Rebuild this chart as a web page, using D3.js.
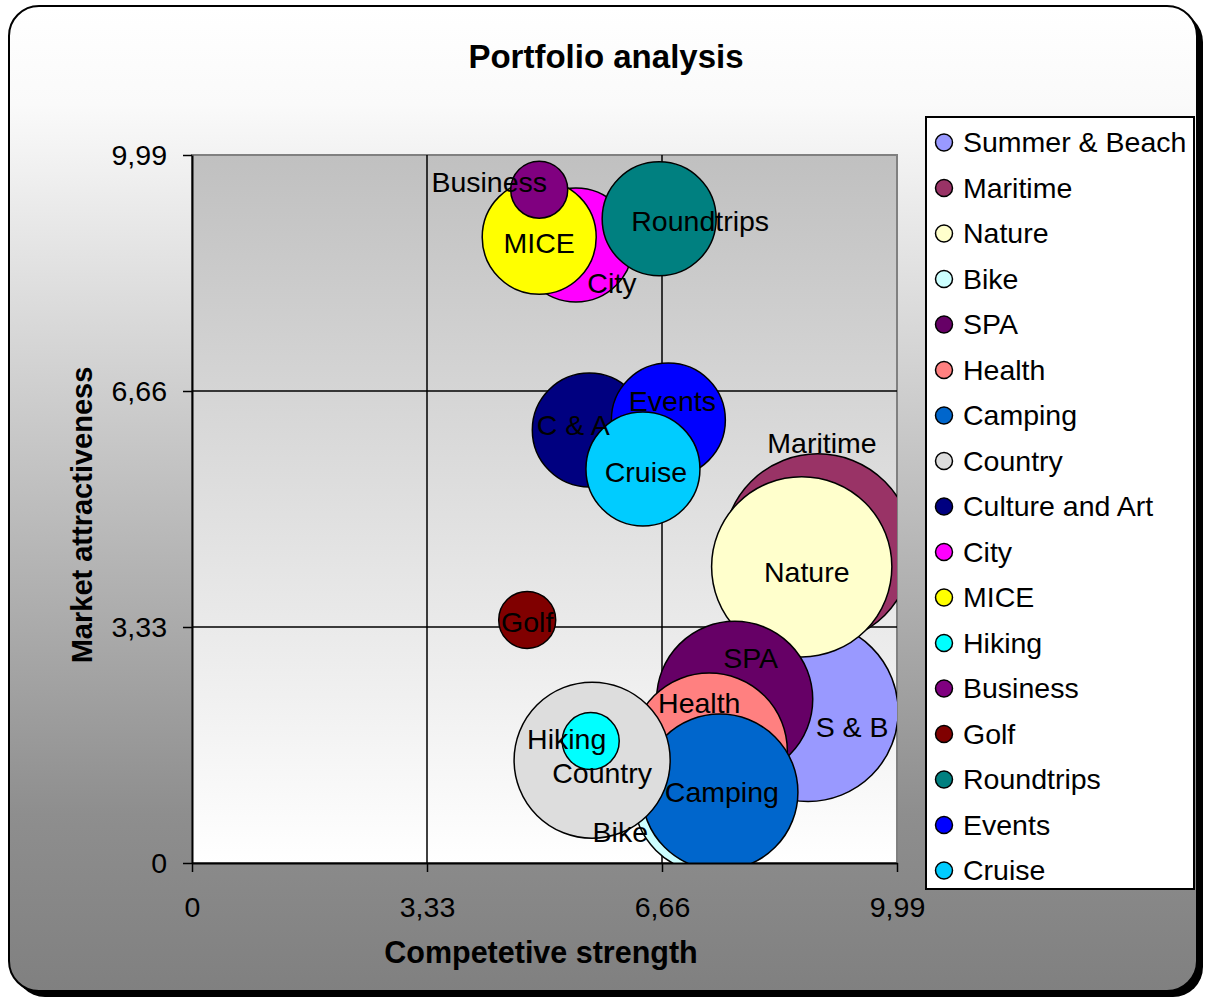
<!DOCTYPE html>
<html>
<head>
<meta charset="utf-8">
<script src="https://cdn.jsdelivr.net/npm/d3@7"></script>
<style>
  html, body { margin: 0; padding: 0; background: #ffffff; }
  svg { display: block; font-family: "Liberation Sans", Arial, Helvetica, sans-serif; }
</style>
</head>
<body>
<svg id="chart" width="1206" height="998"></svg>
<script>
// ---- data -------------------------------------------------------------
const series = [
  "Summer & Beach", "Maritime", "Nature", "Bike", "SPA", "Health", "Camping",
  "Country", "Culture and Art", "City", "MICE", "Hiking", "Business", "Golf",
  "Roundtrips", "Events", "Cruise"
];
const bubbleLabels = [
  "S & B", "Maritime", "Nature", "Bike", "SPA", "Health", "Camping",
  "Country", "C & A", "City", "MICE", "Hiking", "Business", "Golf",
  "Roundtrips", "Events", "Cruise"
];
// competitive strength (x)
const strength = [8.73, 8.87, 8.64, 7.33, 7.69, 7.33, 7.48, 5.67, 5.63, 5.44, 4.92, 5.65, 4.92, 4.75, 6.62, 6.75, 6.39];
// market attractiveness (y)
const attractiveness = [2.14, 4.44, 4.18, 0.93, 2.31, 1.58, 1.00, 1.45, 6.11, 8.72, 8.83, 1.72, 9.50, 3.43, 9.09, 6.25, 5.56];
// bubble size
const volume = [10, 11, 10, 7, 7.5, 7.5, 7.5, 7.5, 4, 4, 4, 1, 1, 1, 4, 4, 4];
const colors = [
  "#9999FF", "#993366", "#FFFFCC", "#CCFFFF", "#660066", "#FF8080", "#0066CC",
  "#DDDDDD", "#000080", "#FF00FF", "#FFFF00", "#00FFFF", "#800080", "#800000",
  "#008080", "#0000FF", "#00CCFF"
];
const tickValues = [0, 3.33, 6.66, 9.99];
const tickLabels = ["0", "3,33", "6,66", "9,99"];

// hand-placed label offsets (pixels from bubble centre)
const labelNudge = {
  "Summer & Beach": [44, 16], "Maritime": [4, -105], "Nature": [5, 5],
  "Bike": [-89, 35], "SPA": [16, -41], "Health": [-10, -48], "Camping": [2, 0],
  "Country": [10, 13], "Culture and Art": [-16, -5], "City": [36, 38],
  "MICE": [0, 6], "Hiking": [-24, -2], "Business": [-50, -8], "Golf": [0, 2],
  "Roundtrips": [41, 2], "Events": [4, -19], "Cruise": [3, 3]
};

// ---- layout -----------------------------------------------------------
const frame = { x: 9, y: 6, w: 1188, h: 985, r: 30 };
const plot = { left: 192, top: 155, right: 897, bottom: 863 };

const svg = d3.select("#chart");
const defs = svg.append("defs");

const bgGrad = defs.append("linearGradient").attr("id", "frameFill")
  .attr("x1", 0).attr("y1", 0).attr("x2", 0).attr("y2", 1);
[[0, "#FFFFFF"], [0.1, "#FAFAFA"], [0.82, "#8E8E8E"], [1, "#808080"]]
  .forEach(([o, c]) => bgGrad.append("stop").attr("offset", o).attr("stop-color", c));

const plotGrad = defs.append("linearGradient").attr("id", "plotFill")
  .attr("x1", 0).attr("y1", 0).attr("x2", 0).attr("y2", 1);
[[0, "#C0C0C0"], [1, "#FFFFFF"]]
  .forEach(([o, c]) => plotGrad.append("stop").attr("offset", o).attr("stop-color", c));

defs.append("clipPath").attr("id", "plotClip")
  .append("rect")
  .attr("x", plot.left).attr("y", plot.top)
  .attr("width", plot.right - plot.left).attr("height", plot.bottom - plot.top);

// chart frame with shadow
svg.append("rect")
  .attr("x", frame.x + 6).attr("y", frame.y + 6)
  .attr("width", frame.w).attr("height", frame.h)
  .attr("rx", frame.r).attr("fill", "#000");
svg.append("rect")
  .attr("x", frame.x).attr("y", frame.y)
  .attr("width", frame.w).attr("height", frame.h)
  .attr("rx", frame.r)
  .attr("fill", "url(#frameFill)").attr("stroke", "#000").attr("stroke-width", 2);

// scales
const x = d3.scaleLinear().domain([0, 9.99]).range([plot.left, plot.right]);
const y = d3.scaleLinear().domain([0, 9.99]).range([plot.bottom, plot.top]);
const r = d3.scaleSqrt().domain([0, d3.max(volume)]).range([0, 28.5 * Math.sqrt(d3.max(volume))]);

// plot area
svg.append("rect")
  .attr("x", plot.left).attr("y", plot.top)
  .attr("width", plot.right - plot.left).attr("height", plot.bottom - plot.top)
  .attr("fill", "url(#plotFill)").attr("stroke", "#808080").attr("stroke-width", 2);

// gridlines
const inner = tickValues.slice(1, -1);
svg.append("g").selectAll("line").data(inner).join("line")
  .attr("x1", d => x(d)).attr("x2", d => x(d))
  .attr("y1", plot.top).attr("y2", plot.bottom)
  .attr("stroke", "#000").attr("stroke-width", 1.5);
svg.append("g").selectAll("line").data(inner).join("line")
  .attr("y1", d => y(d)).attr("y2", d => y(d))
  .attr("x1", plot.left).attr("x2", plot.right)
  .attr("stroke", "#000").attr("stroke-width", 1.5);

// bubbles
const rows = series.map((name, i) => ({
  name, label: bubbleLabels[i], sx: strength[i], sy: attractiveness[i],
  size: volume[i], color: colors[i]
}));

svg.append("g").attr("clip-path", "url(#plotClip)")
  .selectAll("circle").data(rows).join("circle")
  .attr("cx", d => x(d.sx)).attr("cy", d => y(d.sy)).attr("r", d => r(d.size))
  .attr("fill", d => d.color).attr("stroke", "#000").attr("stroke-width", 1.5);

// axes
const fmt = (d, i) => tickLabels[i];
const gx = svg.append("g").attr("transform", `translate(0,${plot.bottom})`)
  .call(d3.axisBottom(x).tickValues(tickValues).tickFormat(fmt)
    .tickSize(9).tickSizeOuter(0).tickPadding(25));
const gy = svg.append("g").attr("transform", `translate(${plot.left},0)`)
  .call(d3.axisLeft(y).tickValues(tickValues).tickFormat(fmt)
    .tickSize(9).tickSizeOuter(0).tickPadding(16));
[gx, gy].forEach(g => {
  g.attr("font-family", null).attr("font-size", null);
  g.select(".domain").attr("stroke", "#000").attr("stroke-width", 2);
  g.selectAll(".tick line").attr("stroke", "#000").attr("stroke-width", 1.5);
  g.selectAll(".tick text").attr("fill", "#000").style("font-size", "28.5px");
});

// bubble labels
svg.append("g").selectAll("text").data(rows).join("text")
  .attr("x", d => x(d.sx) + labelNudge[d.name][0])
  .attr("y", d => y(d.sy) + labelNudge[d.name][1])
  .attr("dy", "0.35em").attr("text-anchor", "middle")
  .style("font-size", "28.5px").attr("fill", "#000")
  .text(d => d.label);

// titles
svg.append("text").attr("x", 606).attr("y", 68).attr("text-anchor", "middle")
  .style("font-size", "33px").style("font-weight", "bold").text("Portfolio analysis");
svg.append("text").attr("x", 541).attr("y", 963).attr("text-anchor", "middle")
  .style("font-size", "30.5px").style("font-weight", "bold").text("Competetive strength");
svg.append("text").attr("transform", "translate(92,515) rotate(-90)").attr("text-anchor", "middle")
  .style("font-size", "29px").style("font-weight", "bold").text("Market attractiveness");

// legend
const legend = { x: 926, y: 117, w: 268, h: 772 };
svg.append("rect")
  .attr("x", legend.x).attr("y", legend.y).attr("width", legend.w).attr("height", legend.h)
  .attr("fill", "#fff").attr("stroke", "#000").attr("stroke-width", 2);
const step = 45.5;
const items = svg.append("g").selectAll("g").data(rows).join("g")
  .attr("transform", (d, i) => `translate(${legend.x}, ${legend.y + 25.5 + i * step})`);
items.append("circle").attr("cx", 18).attr("cy", 0).attr("r", 8.5)
  .attr("fill", d => d.color).attr("stroke", "#000").attr("stroke-width", 1.5);
items.append("text").attr("x", 37).attr("y", 0).attr("dy", "0.35em")
  .style("font-size", "28.5px").attr("fill", "#000").text(d => d.name);
</script>
</body>
</html>
